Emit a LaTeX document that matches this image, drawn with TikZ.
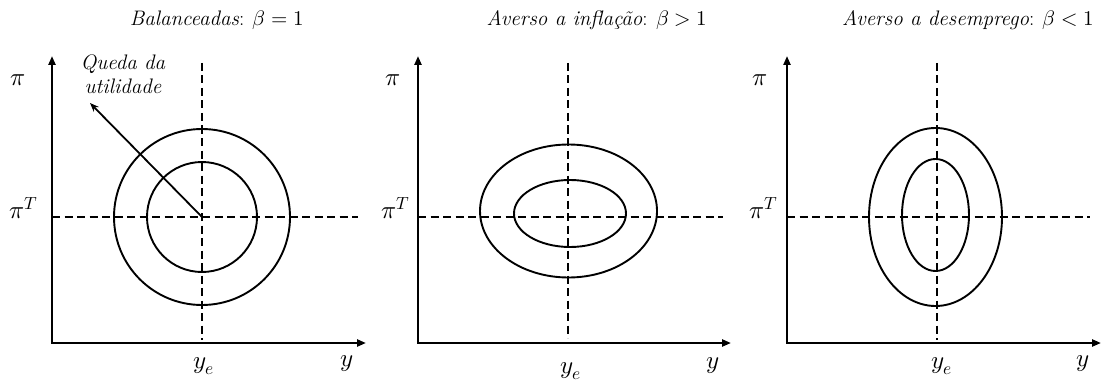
\documentclass[tikz,border=0pt]{standalone}
\usepackage{fontspec}
\usepackage{unicode-math}
\setmathfont{Latin Modern Math}
\usetikzlibrary{arrows.meta}
\begin{document}
\begin{tikzpicture}[x=1pt,y=-1pt,
  axis/.style={line width=2.2pt,line join=miter,{Triangle[length=9pt,width=7pt]}-{Triangle[length=9pt,width=7pt]}},
  guide/.style={line width=1.7pt,dash pattern=on 8pt off 4.5pt},
  curve/.style={line width=1.9pt},
  lbl/.style={font=\fontsize{25}{27}\selectfont,inner sep=0pt},
  ttl/.style={font=\fontsize{21}{25}\selectfont,inner sep=0pt}]
\useasboundingbox (0,0) rectangle (1118,385);

% ---------- Panel 1 ----------
\coordinate (o1) at (52,343);
\coordinate (yt1) at (52,56);
\coordinate (xt1) at (366,343);
\draw[axis] (yt1) -- (o1) -- (xt1);
\coordinate (c1) at (202,217);
\coordinate (h1a) at (52,217); \coordinate (h1b) at (358,217);
\coordinate (v1a) at (202,63); \coordinate (v1b) at (202,340);
\draw[guide] (h1a) -- (h1b);
\draw[guide] (v1a) -- (v1b);
\draw[curve] (c1) circle[radius=88];
\draw[curve] (c1) circle[radius=55];
\coordinate (q1) at (90,103);
\draw[line width=1.8pt,-{Stealth[length=9pt,width=7pt]}] (c1) -- (q1);
\node[ttl,align=center] (qt) at (123,74) {\textit{Queda da}\\[-1pt]\textit{utilidade}};
\node[lbl] (pi1) at (18,80) {$\pi$};
\node[lbl] (piT1) at (24,208) {$\pi^T$};
\node[lbl] (ye1) at (204,366) {$y_e$};
\node[lbl] (y1) at (347,364) {$y$};
\node[ttl] (t1) at (217,20) {\textit{Balanceadas}: $\beta=1$};

% ---------- Panel 2 ----------
\coordinate (o2) at (418,343);
\coordinate (yt2) at (418,56);
\coordinate (xt2) at (731,343);
\draw[axis] (yt2) -- (o2) -- (xt2);
\coordinate (h2a) at (418,217); \coordinate (h2b) at (723,217);
\coordinate (v2a) at (568,63); \coordinate (v2b) at (568,338);
\draw[guide] (h2a) -- (h2b);
\draw[guide] (v2a) -- (v2b);
\coordinate (c2o) at (568.5,211); \coordinate (c2i) at (570,213.5);
\draw[curve] (c2o) ellipse[x radius=88.5,y radius=66.5];
\draw[curve] (c2i) ellipse[x radius=56,y radius=33.5];
\node[lbl] (pi2) at (393,80) {$\pi$};
\node[lbl] (piT2) at (396,208) {$\pi^T$};
\node[lbl] (ye2) at (571,371) {$y_e$};
\node[lbl] (y2) at (713,366) {$y$};
\node[ttl] (t2) at (597,20) {\textit{Averso a inflação}: $\beta>1$};

% ---------- Panel 3 ----------
\coordinate (o3) at (787,343);
\coordinate (yt3) at (787,56);
\coordinate (xt3) at (1101,343);
\draw[axis] (yt3) -- (o3) -- (xt3);
\coordinate (h3a) at (787,217); \coordinate (h3b) at (1090,217);
\coordinate (v3a) at (937,63); \coordinate (v3b) at (937,340);
\draw[guide] (h3a) -- (h3b);
\draw[guide] (v3a) -- (v3b);
\coordinate (c3o) at (935.5,217); \coordinate (c3i) at (935.5,215);
\draw[curve] (c3o) ellipse[x radius=66.5,y radius=89];
\draw[curve] (c3i) ellipse[x radius=33.5,y radius=56];
\node[lbl] (pi3) at (760,80) {$\pi$};
\node[lbl] (piT3) at (764,208) {$\pi^T$};
\node[lbl] (ye3) at (942,366) {$y_e$};
\node[lbl] (y3) at (1083,364) {$y$};
\node[ttl] (t3) at (968,20) {\textit{Averso a desemprego}: $\beta<1$};
\end{tikzpicture}
\end{document}
